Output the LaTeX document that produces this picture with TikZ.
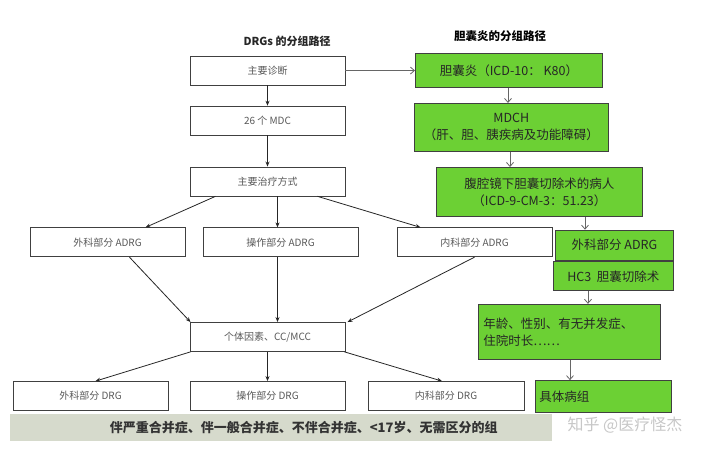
\documentclass[tikz,border=0pt]{standalone}
\usepackage{fontspec}
\setmainfont{Noto Sans CJK SC}
\usetikzlibrary{arrows.meta}
\begin{document}
\begin{tikzpicture}[x=1pt,y=-0.72pt,
  wbox/.style={draw=black!75,line width=0.8pt,fill=white,minimum height=29pt,minimum width=155pt,inner sep=0pt,font=\fontsize{10}{12}\selectfont,text=black!65},
  gbox/.style={draw=black!75,line width=0.8pt,inner sep=2pt,font=\fontsize{12.5}{17}\selectfont,text=black!85},
  arr/.style={-{Stealth[length=5pt,width=4pt]},line width=0.8pt,black!85},
  garr/.style={-{Straight Barb[length=4pt,width=7pt]},line width=0.8pt,black!60}]
\useasboundingbox (0,0) rectangle (720,626.4);
\fill[white] (0,0) rectangle (720,626.4);
\definecolor{gfill}{RGB}{108,208,52}
\tikzset{gbox/.append style={fill=gfill}}
% titles
\node[font=\bfseries\fontsize{11}{12}\selectfont,text=black!85] (t1) at (287,57) {DRGs 的分组路径};
\node[font=\bfseries\fontsize{11.5}{12}\selectfont] (t2) at (500,50) {胆囊炎的分组路径};
% left column
\node[wbox] (zd) at (267.5,98) {主要诊断};
\node[wbox] (mdc) at (267.5,167.5) {26 个 MDC};
\node[wbox] (zl) at (267.5,252) {主要治疗方式};
\node[wbox] (a1) at (107.5,336.5) {外科部分 ADRG};
\node[wbox] (a2) at (280.5,336.5) {操作部分 ADRG};
\node[wbox] (a3) at (474.5,336.5) {内科部分 ADRG};
\node[wbox] (gt) at (267.5,468) {个体因素、CC/MCC};
\node[wbox] (d1) at (90.5,550) {外科部分 DRG};
\node[wbox] (d2) at (267.5,550) {操作部分 DRG};
\node[wbox,minimum width=156pt] (d3) at (446,550) {内科部分 DRG};
\node[fill={rgb,255:red,214;green,218;blue,204},minimum width=542pt,minimum height=27pt,inner sep=0pt,font=\bfseries\fontsize{13}{14}\selectfont,text=black!80,anchor=west] (bar) at (10,593.5) {\hspace*{45pt}伴严重合并症、伴一般合并症、不伴合并症、<17岁、无需区分的组};
% right column
\node[gbox,minimum width=187pt,minimum height=34pt,anchor=north west] (g1) at (415,74) {胆囊炎（ICD-10：\ K80）};
\node[gbox,minimum width=194pt,minimum height=48pt,anchor=north west,align=center] (g2) at (414,143) {MDCH\\（肝、胆、胰疾病及功能障碍）};
\node[gbox,minimum width=206pt,minimum height=49pt,anchor=north west,align=center] (g3) at (436,232) {腹腔镜下胆囊切除术的病人\\（ICD-9-CM-3：51.23）};
\node[gbox,minimum width=118pt,minimum height=30pt,anchor=north west] (g4) at (555,319) {外科部分 ADRG};
\node[gbox,minimum width=120pt,minimum height=29pt,anchor=north west] (g5) at (553,363) {HC3\ \ 胆囊切除术};
\node[gbox,minimum width=182pt,minimum height=55pt,anchor=north west,align=left,text width=172pt] (g6) at (478,422) {年龄、性别、有无并发症、\\住院时长……};
\node[gbox,minimum width=136pt,minimum height=32pt,anchor=north west,align=left,text width=128pt] (g7) at (535,528) {具体病组};
\node[font=\fontsize{16}{18}\selectfont,text=black!22] (wm) at (625,590) {知乎 @医疗怪杰};
% arrows left
\draw[arr] (zd) -- (mdc);
\draw[arr] (mdc) -- (zl);
\draw[arr] ([xshift=-52pt]zl.south) -- ([xshift=38pt]a1.north);
\draw[arr] ([xshift=10pt]zl.south) -- ([xshift=-3pt]a2.north);
\draw[arr] ([xshift=50pt]zl.south) -- ([xshift=-54pt]a3.north);
\draw[arr] ([xshift=22pt]a1.south) -- ([xshift=-77pt]gt.north);
\draw[arr] ([xshift=-3pt]a2.south) -- ([xshift=10pt]gt.north);
\draw[arr] ([xshift=0pt]a3.south) -- ([xshift=80pt]gt.north);
\draw[arr] ([xshift=-77pt]gt.south) -- ([xshift=5pt]d1.north);
\draw[arr] (gt.south) -- (d2.north);
\draw[arr] ([xshift=77pt]gt.south) -- ([xshift=-4pt]d3.north);
\draw[garr] (zd.east) -- (g1.west |- zd.east);
% arrows right
\draw[garr] ([xshift=508pt]g1.south -| 0,0) -- ([xshift=508pt]g2.north -| 0,0);
\draw[garr] ([xshift=510pt]g2.south -| 0,0) -- ([xshift=510pt]g3.north -| 0,0);
\draw[garr] ([xshift=585pt]g3.south -| 0,0) -- ([xshift=585pt]g4.north -| 0,0);
\draw[garr] ([xshift=588pt]g5.south -| 0,0) -- ([xshift=588pt]g6.north -| 0,0);
\draw[garr] ([xshift=570pt]g6.south -| 0,0) -- ([xshift=570pt]g7.north -| 0,0);
\end{tikzpicture}
\end{document}
